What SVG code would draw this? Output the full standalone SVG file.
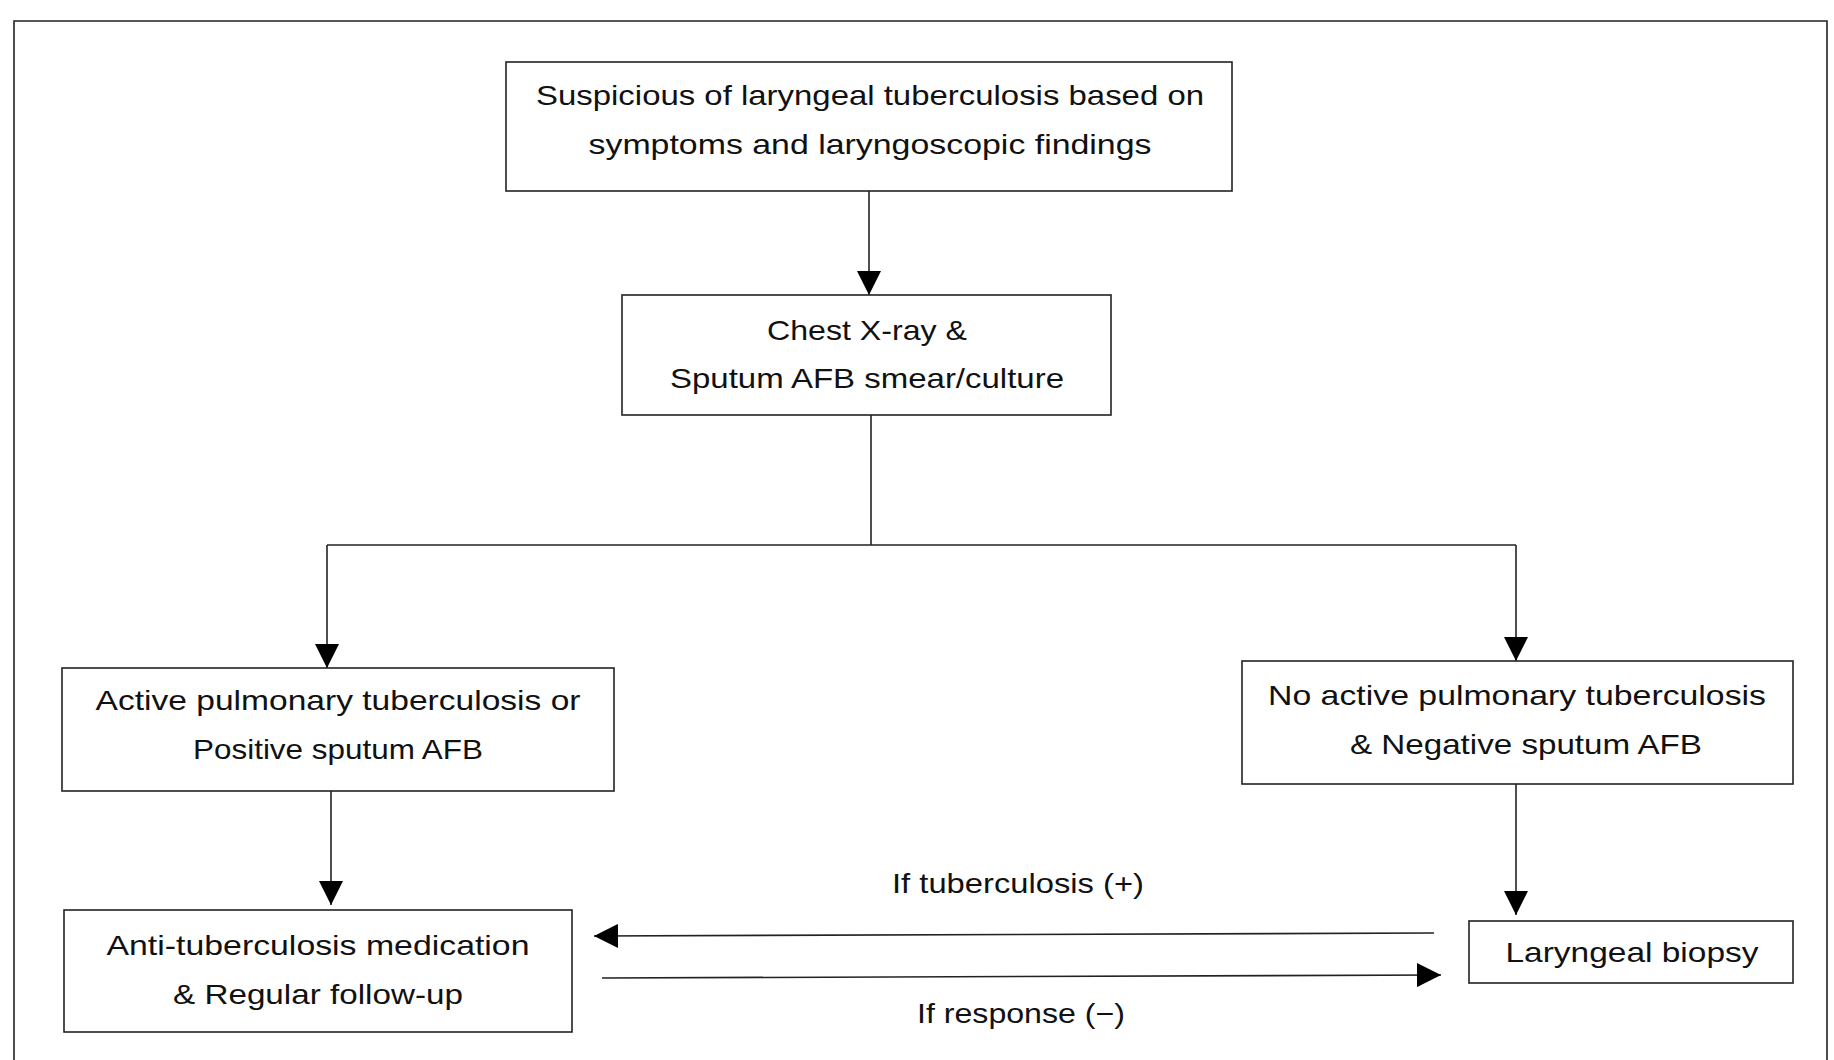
<svg xmlns="http://www.w3.org/2000/svg" width="1834" height="1060" viewBox="0 0 1834 1060">
<defs>
<style>
.box{fill:#fff;stroke:#222;stroke-width:1.6}
.ln{fill:none;stroke:#222;stroke-width:1.6}
.t{font-family:"Liberation Sans",Arial,sans-serif;font-size:28px;fill:#111;text-anchor:middle}
</style>
<marker id="ah" viewBox="0 0 10 10" refX="10" refY="5" markerWidth="24" markerHeight="24" markerUnits="userSpaceOnUse" orient="auto">
<path d="M0,0 L10,5 L0,10 Z" fill="#000"/>
</marker>
</defs>
<rect x="0" y="0" width="1834" height="1060" fill="#fff"/>
<path class="ln" d="M14,1060 L14,21 L1827,21 L1827,1060"/>
<g id="connectors">
<line class="ln" x1="869" y1="191" x2="869" y2="295" marker-end="url(#ah)"/>
<path class="ln" d="M871,415 L871,545"/>
<path class="ln" d="M1516,545 L327,545"/>
<line class="ln" x1="327" y1="545" x2="327" y2="668" marker-end="url(#ah)"/>
<line class="ln" x1="1516" y1="545" x2="1516" y2="661" marker-end="url(#ah)"/>
<line class="ln" x1="331" y1="791" x2="331" y2="905" marker-end="url(#ah)"/>
<line class="ln" x1="1516" y1="784" x2="1516" y2="915" marker-end="url(#ah)"/>
<line class="ln" x1="1434" y1="933" x2="594" y2="936" marker-end="url(#ah)"/>
<line class="ln" x1="602" y1="978" x2="1441" y2="975" marker-end="url(#ah)"/>
<text class="t" x="1018" y="893" textLength="252" lengthAdjust="spacingAndGlyphs">If tuberculosis (+)</text>
<text class="t" x="1021" y="1023" textLength="208" lengthAdjust="spacingAndGlyphs">If response (−)</text>
</g>
<g id="n1">
<rect class="box" x="506" y="62" width="726" height="129"/>
<text class="t" x="870" y="105" textLength="668" lengthAdjust="spacingAndGlyphs">Suspicious of laryngeal tuberculosis based on</text>
<text class="t" x="870" y="154" textLength="563" lengthAdjust="spacingAndGlyphs">symptoms and laryngoscopic findings</text>
</g>
<g id="n2">
<rect class="box" x="622" y="295" width="489" height="120"/>
<text class="t" x="867" y="340" textLength="200" lengthAdjust="spacingAndGlyphs">Chest X-ray &amp;</text>
<text class="t" x="867" y="388" textLength="394" lengthAdjust="spacingAndGlyphs">Sputum AFB smear/culture</text>
</g>
<g id="n3">
<rect class="box" x="62" y="668" width="552" height="123"/>
<text class="t" x="338" y="710" textLength="485" lengthAdjust="spacingAndGlyphs">Active pulmonary tuberculosis or</text>
<text class="t" x="338" y="759" textLength="290" lengthAdjust="spacingAndGlyphs">Positive sputum AFB</text>
</g>
<g id="n4">
<rect class="box" x="1242" y="661" width="551" height="123"/>
<text class="t" x="1517" y="705" textLength="498" lengthAdjust="spacingAndGlyphs">No active pulmonary tuberculosis</text>
<text class="t" x="1526" y="754" textLength="352" lengthAdjust="spacingAndGlyphs">&amp; Negative sputum AFB</text>
</g>
<g id="n5">
<rect class="box" x="64" y="910" width="508" height="122"/>
<text class="t" x="318" y="955" textLength="423" lengthAdjust="spacingAndGlyphs">Anti-tuberculosis medication</text>
<text class="t" x="318" y="1004" textLength="290" lengthAdjust="spacingAndGlyphs">&amp; Regular follow-up</text>
</g>
<g id="n6">
<rect class="box" x="1469" y="921" width="324" height="62"/>
<text class="t" x="1632" y="962" textLength="253" lengthAdjust="spacingAndGlyphs">Laryngeal biopsy</text>
</g>
</svg>
